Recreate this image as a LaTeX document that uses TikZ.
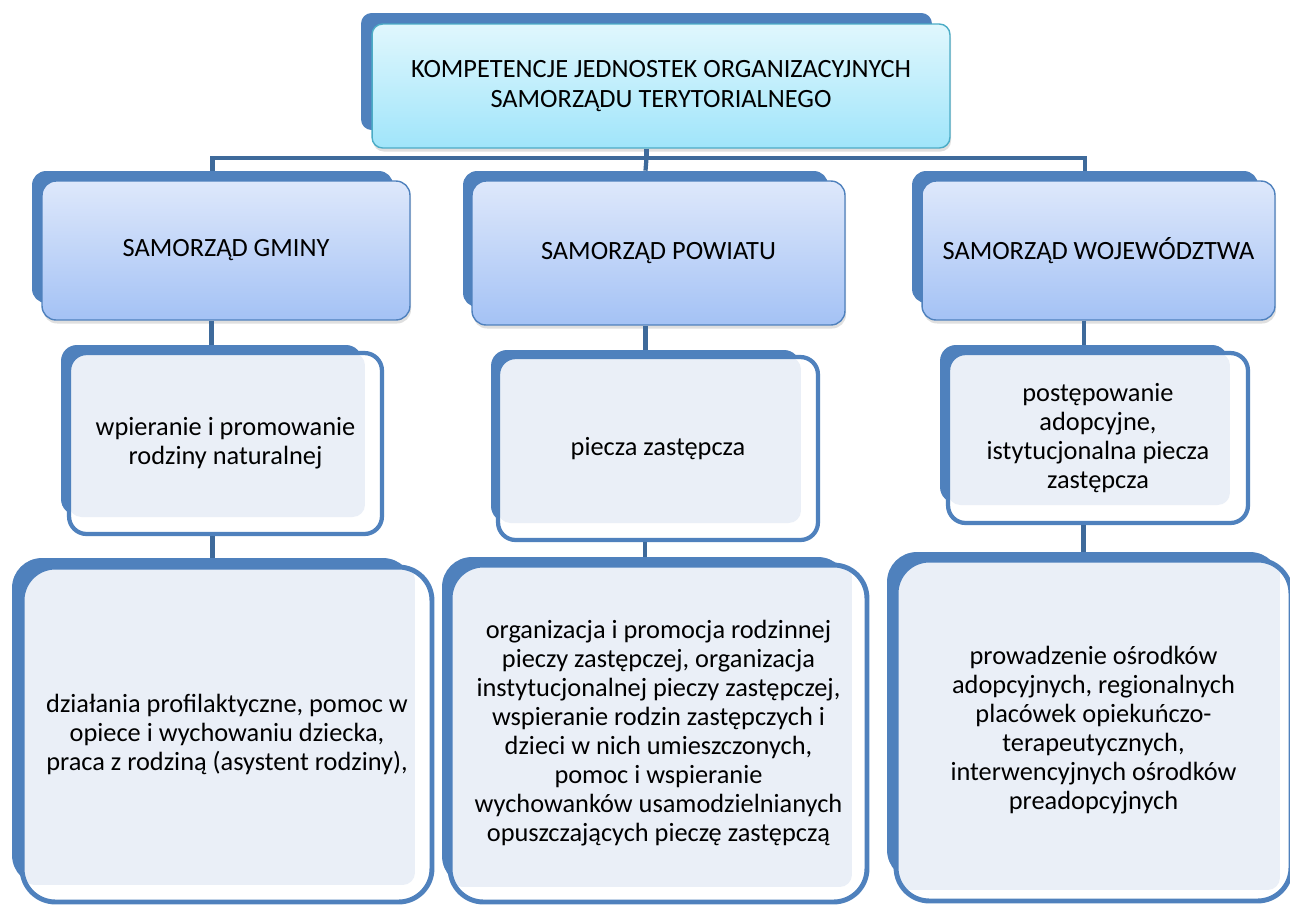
\documentclass[tikz,border=0pt]{standalone}
\usepackage{fontspec}
\setmainfont{Carlito}
\usepackage{xcolor}
\usepackage{tikz}
\usetikzlibrary{shadows}

\definecolor{backblue}{RGB}{79,129,189}
\definecolor{linkblue}{RGB}{62,106,155}
\definecolor{fillpale}{RGB}{234,239,247}
\definecolor{cyantop}{RGB}{224,247,253}
\definecolor{cyanbot}{RGB}{160,229,250}
\definecolor{cyanline}{RGB}{75,172,198}
\definecolor{bluetop}{RGB}{222,232,251}
\definecolor{bluebot}{RGB}{164,194,245}

\begin{document}
\begin{tikzpicture}[
  x=0.02cm, y=-0.02cm,
  font=\fontsize{15}{16.5}\selectfont,
  backbox/.style={
    fill=backblue,
    inner sep=0pt
  },
  headbox/.style={
    draw=cyanline,
    line width=0.8pt,
    top color=cyantop,
    bottom color=cyanbot,
    rounded corners=6pt,
    drop shadow={shadow xshift=0.6pt, shadow yshift=-2pt, opacity=0.25},
    font=\fontsize{15}{17.5}\selectfont,
    align=center
  },
  unitbox/.style={
    draw=backblue,
    line width=0.8pt,
    top color=bluetop,
    bottom color=bluebot,
    rounded corners=8pt,
    drop shadow={shadow xshift=0.6pt, shadow yshift=-2pt, opacity=0.25},
    align=center
  },
  taskbox/.style={
    draw=backblue,
    line width=2.4pt,
    fill=white,
    align=center,
    path picture={
      \fill[fillpale, rounded corners=7pt]
        (path picture bounding box.north west) rectangle
        ([xshift=-#1, yshift=#1]path picture bounding box.south east);
    }
  },
  link/.style={
    draw=linkblue,
    line width=2.4pt
  }
]
\useasboundingbox[fill=white] (0,0) rectangle (1290,904);

% Top box
\node[backbox, rounded corners=6pt, minimum width=11.42cm, minimum height=2.34cm] (topB) at (646.5,71.5) {};
\node[headbox, minimum width=11.56cm, minimum height=2.48cm] (top) at (661,86) {KOMPETENCJE JEDNOSTEK ORGANIZACYJNYCH\\SAMORZĄDU TERYTORIALNEGO};

% Level 1 - units
\node[backbox, rounded corners=8pt, minimum width=7.22cm, minimum height=2.64cm] (gminaB) at (212.5,237) {};
\node[unitbox, minimum width=7.36cm, minimum height=2.78cm] (gmina) at (226,250.5) {SAMORZĄD GMINY};
\node[backbox, rounded corners=8pt, minimum width=7.30cm, minimum height=2.72cm] (powiatB) at (645.5,239) {};
\node[unitbox, minimum width=7.46cm, minimum height=2.88cm] (powiat) at (658.5,253) {SAMORZĄD POWIATU};
\node[backbox, rounded corners=8pt, minimum width=6.92cm, minimum height=2.64cm] (wojB) at (1085,237) {};
\node[unitbox, minimum width=7.06cm, minimum height=2.78cm] (woj) at (1098.5,250.5) {SAMORZĄD WOJEWÓDZTWA};

% Level 2 - main tasks
\node[backbox, rounded corners=9pt, minimum width=6.02cm, minimum height=3.40cm] (rodzB) at (211.5,430) {};
\node[taskbox=0.34cm, rounded corners=10pt, minimum width=6.26cm, minimum height=3.62cm] (rodz) at (225.5,443.5) {wpieranie i promowanie\\rodziny naturalnej};
\node[backbox, rounded corners=9pt, minimum width=6.18cm, minimum height=3.44cm] (pieczaB) at (645.5,436) {};
\node[taskbox=0.34cm, rounded corners=10pt, minimum width=6.40cm, minimum height=3.66cm] (piecza) at (658,448.5) {piecza zastępcza};
\node[backbox, rounded corners=9pt, minimum width=5.76cm, minimum height=3.16cm] (adopcjaB) at (1084,424) {};
\node[taskbox=0.36cm, rounded corners=10pt, minimum width=6.00cm, minimum height=3.40cm] (adopcja) at (1098,438) {postępowanie\\adopcyjne,\\istytucjonalna piecza\\zastępcza};

% Level 3 - detailed tasks
\node[backbox, rounded corners=17pt, minimum width=8.02cm, minimum height=6.54cm] (profB) at (212.5,721.5) {};
\node[taskbox=0.34cm, line width=2.8pt, rounded corners=19pt, minimum width=8.20cm, minimum height=6.70cm] (prof) at (227,734.5) {działania profilaktyczne, pomoc w\\opiece i wychowaniu dziecka,\\praca z rodziną (asystent rodziny),};
\node[backbox, rounded corners=17pt, minimum width=8.12cm, minimum height=6.58cm] (organB) at (645,721.5) {};
\node[taskbox=0.30cm, line width=2.8pt, rounded corners=19pt, minimum width=8.34cm, minimum height=6.74cm] (organ) at (658.5,733.5) {organizacja i promocja rodzinnej\\pieczy zastępczej, organizacja\\instytucjonalnej pieczy zastępczej,\\wspieranie rodzin zastępczych i\\dzieci w nich umieszczonych,\\pomoc i wspieranie\\wychowanków usamodzielnianych\\opuszczających pieczę zastępczą};
\node[backbox, rounded corners=17pt, minimum width=7.86cm, minimum height=6.56cm] (osrodB) at (1083.5,716) {};
\node[taskbox=0.22cm, line width=2.8pt, rounded corners=19pt, minimum width=7.90cm, minimum height=6.82cm] (osrod) at (1093.5,730.5) {prowadzenie ośrodków\\adopcyjnych, regionalnych\\placówek opiekuńczo-\\terapeutycznych,\\interwencyjnych ośrodków\\preadopcyjnych};

% Connectors
\coordinate (bus) at (646.5,158);
\draw[link] (top.south -| topB) -- (bus);
\draw[link] (gminaB.north) |- (bus) -| (wojB.north);
\draw[link] (bus) -- (powiatB.north);
\draw[link] (gmina.south -| rodzB) -- (rodzB.north);
\draw[link] (powiat.south -| pieczaB) -- (pieczaB.north);
\draw[link] (woj.south -| adopcjaB) -- (adopcjaB.north);
\draw[link] (rodz.south -| profB) -- (profB.north);
\draw[link] (piecza.south -| organB) -- (organB.north);
\draw[link] (adopcja.south -| osrodB) -- (osrodB.north);
\end{tikzpicture}
\end{document}
